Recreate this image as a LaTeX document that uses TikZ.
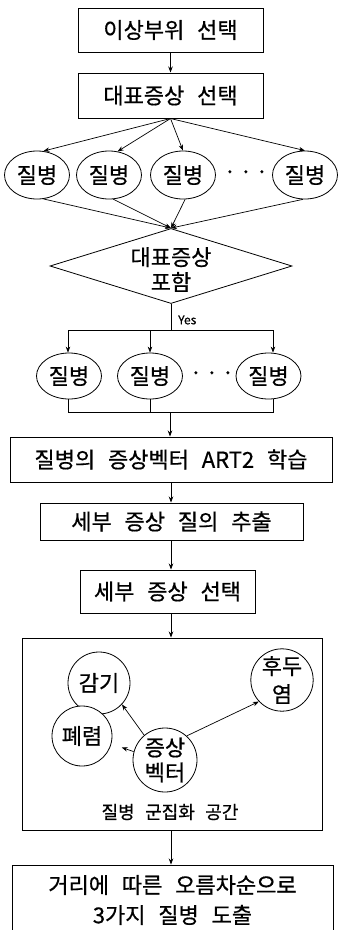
\documentclass[tikz,border=0pt]{standalone}
\usepackage{fontspec}
\setmainfont{Noto Sans CJK KR}[WordSpace=2.6, FakeBold=0.6]
\usetikzlibrary{shapes.geometric,arrows.meta}
\begin{document}
\begin{tikzpicture}[x=1pt,y=-1pt,
  every node/.style={font=\fontsize{22}{25}\selectfont},
  box/.style={draw, line width=1pt, inner sep=0},
  ell/.style={draw, line width=0.8pt, ellipse, minimum width=65pt, minimum height=48pt, inner sep=0},
  ell2/.style={draw, line width=0.8pt, ellipse, minimum width=65pt, minimum height=46pt, inner sep=0},
  circ/.style={draw, line width=0.8pt, circle, inner sep=0, align=center},
  arr/.style={-{Stealth[length=6pt,width=4.5pt]}, line width=0.7pt},
  ln/.style={line width=0.7pt}]
\useasboundingbox (0,0) rectangle (340,930);
\fill[white] (0,0) rectangle (340,930);

\node[box, minimum width=185pt, minimum height=44pt] (b1) at (170.5,30) {이상부위 선택};
\node[box, minimum width=185pt, minimum height=45pt] (b2) at (170.5,95.5) {대표증상 선택};
\draw[arr] (b1.south) -- (b2.north);

\node[ell] (e1) at (37,175) {질병};
\node[ell] (e2) at (109,175) {질병};
\node[ell] (e3) at (183,175) {질병};
\node[ell] (e4) at (305,175) {질병};
\node (d1) at (246,175) {·\,·\,·};

\draw[arr] (b2.south) -- (e1.75);
\draw[arr] (b2.south) -- (e2.70);
\draw[arr] (b2.south) -- (e3.north);
\draw[arr] (b2.south) -- (e4.north);

\node[draw, line width=0.8pt, diamond, aspect=3.23, minimum width=242pt, minimum height=75pt, inner sep=0] (dm) at (171,266) {};
\node[align=center] (dmt) at (171,269.5) {대표증상\\포함};

\draw[arr] (e1.-75) -- (dm.north);
\draw[arr] (e2.-80) -- (dm.north);
\draw[arr] (e3.-85) -- (dm.north);
\draw[arr] (e4.-95) -- (dm.north);

\node[font=\fontsize{12}{14}\selectfont, anchor=west, inner sep=0] (yes) at (178,320) {Yes};

\node[ell2] (f1) at (69,376) {질병};
\node[ell2] (f2) at (150,376) {질병};
\node[ell2] (f3) at (268.5,376) {질병};
\node (d2) at (212,376) {·\,·\,·};

\coordinate (j1) at (171,330);
\coordinate (h1) at (68,330);
\coordinate (h2) at (150,330);
\coordinate (h3) at (273,330);
\draw[ln] (dm.south) -- (j1);
\draw[ln] (h1) -- (h3);
\draw[arr] (h1) -- (h1 |- f1.north);
\draw[arr] (h2) -- (h2 |- f2.north);
\draw[arr] (h3) -- (h3 |- f3.north);

\coordinate (g1) at (68,412);
\coordinate (g2) at (170,412);
\coordinate (g3) at (273,412);
\draw[ln] (g1 |- f1.south) -- (g1) -- (g3) -- (g3 |- f3.south);
\draw[ln] (f2.south) -- (f2.south |- g1);

\node[box, minimum width=322pt, minimum height=45pt] (b3) at (171,459.5) {질병의 증상벡터 ART2 학습};
\draw[arr] (g2) -- (g2 |- b3.north);

\node[box, minimum width=263pt, minimum height=37pt] (b4) at (171.5,521.5) {세부 증상 질의 추출};
\node[box, minimum width=175pt, minimum height=43pt] (b5) at (167.5,591.5) {세부 증상 선택};
\node[box, minimum width=300pt, minimum height=192pt] (bb) at (172,734) {};
\node[box, minimum width=321pt, minimum height=70pt] (fb) at (172.5,900) {};
\node[align=center, font=\fontsize{22}{30}\selectfont] (fbt) at (172.5,900) {거리에 따른 오름차순으로\\3가지 질병 도출};

\coordinate (sp) at (171,0);
\draw[arr] (b3.south -| sp) -- (b4.north -| sp);
\draw[arr] (b4.south -| sp) -- (b5.north -| sp);
\draw[arr] (b5.south -| sp) -- (bb.north -| sp);
\draw[arr] (bb.south -| sp) -- (fb.north -| sp);

\node[circ, minimum size=62pt] (gam) at (99,683) {감기};
\node[circ, minimum size=60pt, fill=white] (pe) at (82,736) {폐렴};
\node[circ, minimum size=62pt, font=\fontsize{22}{28}\selectfont] (hu) at (282,680) {후두\\염};
\node[circ, minimum size=64pt] (v) at (165,760) {증상\\벡터};

\draw[arr] (v.130) -- (gam.-43);
\draw[arr, shorten >=11pt] (v.165) -- (pe.-15);
\draw[arr] (v.48) -- (hu.223);

\node[font=\fontsize{18}{22}\selectfont] (lab) at (170,812) {질병 군집화 공간};
\end{tikzpicture}
\end{document}
